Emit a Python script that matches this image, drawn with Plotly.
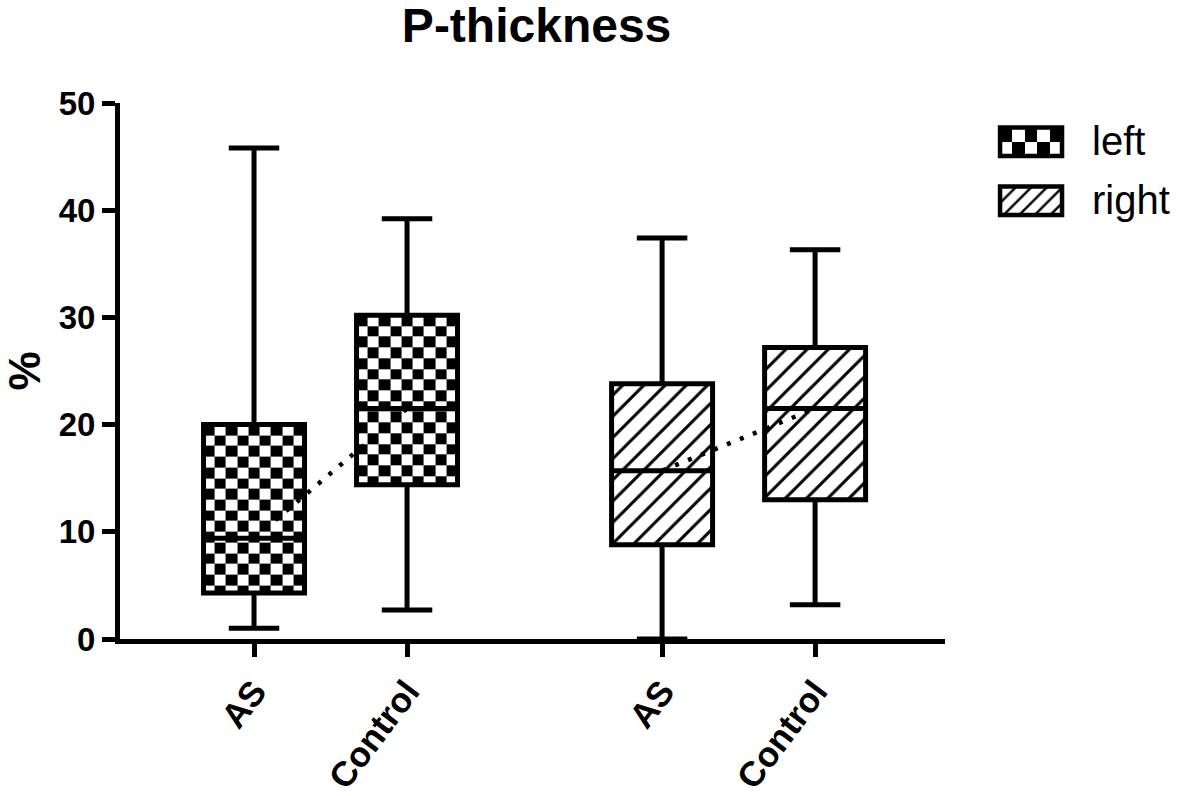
import numpy as np
import plotly.graph_objects as go

# ---- data ----
categories = ["AS", "Control", "AS", "Control"]
sides = ["left", "left", "right", "right"]
upper_whisker = [45.8, 39.2, 37.4, 36.3]
q3_vals = [20.0, 30.2, 23.8, 27.2]
median_vals = [9.4, 21.5, 15.7, 21.5]
q1_vals = [4.3, 14.4, 8.8, 13.0]
lower_whisker = [1.0, 2.7, 0.0, 3.2]
y_ticks = [0, 10, 20, 30, 40, 50]

# ---- layout helpers ----
positions = [0.0, 1.0, 2.667, 3.667]
box_w = 0.66
FONT = "Liberation Sans"
LW = 5

fig = go.Figure()

# checkerboard fills for "left" boxes (heatmap cells)
for i, s in enumerate(sides):
    if s != "left":
        continue
    xe = np.linspace(positions[i] - box_w / 2, positions[i] + box_w / 2, 10)
    ye = np.append(np.arange(q3_vals[i], q1_vals[i], -1.0), q1_vals[i])[::-1]
    nr, nc = len(ye) - 1, len(xe) - 1
    z = [[(r + c) % 2 for c in range(nc)] for r in range(nr)]
    fig.add_trace(go.Heatmap(x=xe, y=ye, z=z, zmin=0, zmax=1,
                             colorscale=[[0, "white"], [1, "black"]],
                             showscale=False, hoverinfo="skip", showlegend=False))

# hatched fills for "right" boxes
rx = [positions[i] for i, s in enumerate(sides) if s == "right"]
rb = [q1_vals[i] for i, s in enumerate(sides) if s == "right"]
rh = [q3_vals[i] - q1_vals[i] for i, s in enumerate(sides) if s == "right"]
fig.add_trace(go.Bar(x=rx, y=rh, base=rb, width=box_w, showlegend=False,
                     hoverinfo="skip",
                     marker=dict(color="white", line=dict(width=0),
                                 pattern=dict(shape="/", fgcolor="black", bgcolor="white",
                                              fgopacity=1, size=15, solidity=0.2))))

# box outlines, medians and whiskers
fig.add_trace(go.Box(x=positions, q1=q1_vals, median=median_vals, q3=q3_vals,
                     lowerfence=lower_whisker, upperfence=upper_whisker,
                     width=box_w, whiskerwidth=0.5, boxpoints=False,
                     fillcolor="rgba(0,0,0,0)", line=dict(color="black", width=LW),
                     showlegend=False, hoverinfo="skip"))

# dotted lines connecting medians within each side
for s in ["left", "right"]:
    idx = [i for i, v in enumerate(sides) if v == s]
    fig.add_trace(go.Scatter(x=[positions[i] for i in idx], y=[median_vals[i] for i in idx],
                             mode="lines", line=dict(color="black", width=4.5, dash="4px,10px"),
                             showlegend=False, hoverinfo="skip"))

# ---- custom legend in an auxiliary axis (pixel-like units) ----
lx = np.linspace(1000, 1062, 6)
ly = np.array([128, 142.5, 157])
fig.add_trace(go.Heatmap(x=lx, y=ly, z=[[(r + c + 1) % 2 for c in range(5)] for r in range(2)],
                         zmin=0, zmax=1, colorscale=[[0, "white"], [1, "black"]],
                         showscale=False, hoverinfo="skip", xaxis="x2", yaxis="y2"))
fig.add_trace(go.Bar(x=[1031], y=[29], base=[188], width=62, xaxis="x2", yaxis="y2",
                     showlegend=False, hoverinfo="skip",
                     marker=dict(color="white", line=dict(color="black", width=4.5),
                                 pattern=dict(shape="/", fgcolor="black", bgcolor="white",
                                              fgopacity=1, size=11, solidity=0.22))))

shapes = [dict(type="rect", xref="x2", yref="y2", x0=1000, x1=1062, y0=128, y1=157,
               line=dict(color="black", width=4.5), layer="above")]
annotations = [
    dict(xref="x2", yref="y2", x=1090, y=142, text="left", showarrow=False,
         xanchor="left", yanchor="middle", font=dict(family=FONT, size=40, color="black")),
    dict(xref="x2", yref="y2", x=1090, y=202, text="right", showarrow=False,
         xanchor="left", yanchor="middle", font=dict(family=FONT, size=40, color="black")),
]

fig.update_layout(
    width=1180, height=796,
    margin=dict(l=120, r=0, t=103, b=147),
    plot_bgcolor="white", paper_bgcolor="white",
    barmode="overlay",
    showlegend=False,
    title=dict(text="P-thickness", x=0.393, xref="paper", xanchor="center",
               y=0.968, yref="container", yanchor="middle",
               font=dict(family=FONT, size=48, color="black", weight="bold")),
    xaxis=dict(domain=[0, 0.7783], range=[-0.876, 4.516],
               tickvals=positions, ticktext=categories, tickangle=-53,
               showline=True, linecolor="black", linewidth=LW,
               ticks="outside", ticklen=13, tickwidth=LW, tickcolor="black",
               showgrid=False, zeroline=False,
               tickfont=dict(family=FONT, size=35, color="black", weight="bold")),
    yaxis=dict(range=[0, 50], tickvals=y_ticks,
               showline=True, linecolor="black", linewidth=LW,
               ticks="outside", ticklen=13, tickwidth=LW, tickcolor="black",
               showgrid=False, zeroline=False,
               tickfont=dict(family=FONT, size=33, color="black", weight="bold"),
               title=dict(text="%", standoff=26,
                          font=dict(family=FONT, size=44, color="black", weight="bold"))),
    xaxis2=dict(domain=[0.8208, 1.0], range=[990, 1180], visible=False,
                anchor="y2", fixedrange=True),
    yaxis2=dict(domain=[0.7766, 0.9689], range=[225, 120], visible=False,
                anchor="x2", fixedrange=True),
    shapes=shapes,
    annotations=annotations,
)

fig.write_html("out.html", config={"displayModeBar": False},
               post_script="document.body.style.margin='0';")
